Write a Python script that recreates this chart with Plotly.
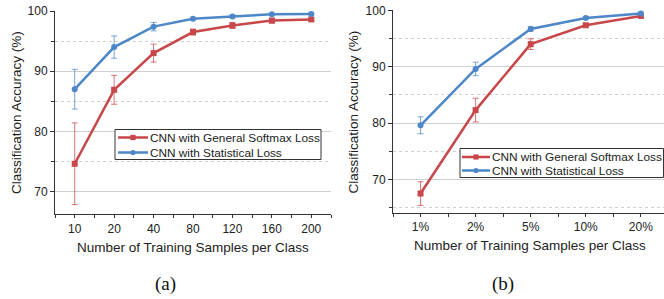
import plotly.graph_objects as go

# ---- data ----
cats_a = ["10", "20", "40", "80", "120", "160", "200"]
softmax_a = [74.6, 86.9, 93.0, 96.5, 97.6, 98.4, 98.6]
softmax_a_err = [6.8, 2.4, 1.5, 0.5, 0.5, 0.4, 0.3]
stat_a = [87.0, 94.0, 97.4, 98.7, 99.1, 99.45, 99.5]
stat_a_err = [3.3, 1.85, 0.7, 0.2, 0.2, 0.15, 0.15]

cats_b = ["1%", "2%", "5%", "10%", "20%"]
softmax_b = [67.5, 82.3, 94.0, 97.35, 99.0]
softmax_b_err = [2.1, 2.1, 0.95, 0.3, 0.25]
stat_b = [79.6, 89.6, 96.7, 98.65, 99.45]
stat_b_err = [1.5, 1.2, 0.4, 0.2, 0.2]

name_soft = "CNN with General Softmax Loss"
name_stat = "CNN with Statistical Loss"
x_title = "Number of Training Samples per Class"
y_title = "Classification Accuracy (%)"

RED = "#C8474A"
BLUE = "#4D87C7"
RED_ERR = "rgba(200,71,74,0.75)"
BLUE_ERR = "rgba(77,135,199,0.75)"

W, H = 664, 299
FONT = "Liberation Sans, Arial, sans-serif"
SERIF = "Liberation Serif, Times New Roman, serif"

fig = go.Figure()

def add_series(xcats, y, err, name, color, ecolor, symbol, xa, ya):
    xs = list(range(len(xcats)))
    fig.add_trace(go.Scatter(
        x=xs, y=y, name=name, mode="lines+markers",
        line=dict(color=color, width=2.5),
        marker=dict(color=color, size=6, symbol=symbol),
        error_y=dict(type="data", array=err, visible=True, color=ecolor,
                     thickness=1, width=3),
        xaxis=xa, yaxis=ya, showlegend=False, cliponaxis=False,
    ))

add_series(cats_a, softmax_a, softmax_a_err, name_soft, RED, RED_ERR, "square", "x", "y")
add_series(cats_a, stat_a, stat_a_err, name_stat, BLUE, BLUE_ERR, "circle", "x", "y")
add_series(cats_b, softmax_b, softmax_b_err, name_soft, RED, RED_ERR, "square", "x2", "y2")
add_series(cats_b, stat_b, stat_b_err, name_stat, BLUE, BLUE_ERR, "circle", "x2", "y2")

def px_x(p):
    return p / W

def px_y(p):
    return 1 - p / H

xcommon = dict(
    automargin=False,
    showline=True, linecolor="#333", linewidth=1, showgrid=False, zeroline=False,
    ticks="outside", ticklen=3, tickcolor="#333",
    tickfont=dict(family=FONT, size=12, color="#222"),
    minor=dict(ticks="outside", ticklen=3, tickcolor="#333", showgrid=False),
)
ycommon = dict(
    automargin=False,
    showline=True, linecolor="#333", linewidth=1, zeroline=False,
    showgrid=True, gridcolor="#CFCFCF", gridwidth=1,
    tickmode="linear", tick0=0, dtick=10,
    ticks="outside", ticklen=4, tickcolor="#333",
    tickfont=dict(family=FONT, size=12, color="#222"),
    minor=dict(dtick=5, tick0=0, ticks="outside", ticklen=3, tickcolor="#333",
               showgrid=True, gridcolor="#D0D0D0", griddash="dot", gridwidth=1),
)

shapes = []
annotations = []

def add_legend(x0, y0, x1, y1, rows, sx0, sx1, tx):
    shapes.append(dict(type="rect", xref="paper", yref="paper",
                       x0=px_x(x0), x1=px_x(x1), y0=px_y(y1), y1=px_y(y0),
                       line=dict(color="#333", width=1), fillcolor="white", layer="above"))
    for (yy, name, color, symbol) in rows:
        shapes.append(dict(type="line", xref="paper", yref="paper",
                           x0=px_x(sx0), x1=px_x(sx1), y0=px_y(yy), y1=px_y(yy),
                           line=dict(color=color, width=2.5), layer="above"))
        cx = (sx0 + sx1) / 2
        r = 2.6
        shapes.append(dict(type="rect" if symbol == "square" else "circle",
                           xref="paper", yref="paper",
                           x0=px_x(cx - r), x1=px_x(cx + r), y0=px_y(yy + r), y1=px_y(yy - r),
                           line=dict(color=color, width=0), fillcolor=color, layer="above"))
        annotations.append(dict(text=name, x=px_x(tx), y=px_y(yy), xref="paper", yref="paper",
                                xanchor="left", yanchor="middle", showarrow=False,
                                font=dict(family=FONT, size=11.8, color="#222")))

add_legend(115, 129.5, 321, 159.5,
           [(137.5, name_soft, RED, "square"), (152.5, name_stat, BLUE, "circle")],
           118, 148, 148)
add_legend(460, 148.5, 663.5, 177.5,
           [(157.0, name_soft, RED, "square"), (170.5, name_stat, BLUE, "circle")],
           462, 490, 490)

def add_text(text, x, y, size, family=FONT, angle=0, color="#222"):
    annotations.append(dict(text=text, x=px_x(x), y=px_y(y), xref="paper", yref="paper",
                            xanchor="center", yanchor="middle", showarrow=False,
                            textangle=angle, font=dict(family=family, size=size, color=color)))

add_text(y_title, 16.5, 112.5, 13.5, angle=-90)
add_text(y_title, 353, 111.5, 13.5, angle=-90)
add_text(x_title, 192.5, 247.3, 13.5)
add_text(x_title, 529.7, 245.7, 13.5)
add_text("(a)", 165, 284, 19, family=SERIF, color="#111")
add_text("(b)", 503, 284, 19, family=SERIF, color="#111")

fig.update_layout(
    width=W, height=H,
    margin=dict(l=0, r=0, t=0, b=0),
    paper_bgcolor="white", plot_bgcolor="white",
    font=dict(family=FONT, size=12, color="#222"),
    xaxis=dict(xcommon, domain=[px_x(55), px_x(331)], range=[-0.5, 6.5],
               tickmode="array", tickvals=list(range(len(cats_a))), ticktext=cats_a,
               minor=dict(xcommon["minor"], tickmode="array",
                          tickvals=[i + 0.5 for i in range(-1, len(cats_a))]),
               anchor="y"),
    yaxis=dict(ycommon, domain=[px_y(214.3), px_y(11)], range=[66.2, 100], anchor="x"),
    xaxis2=dict(xcommon, domain=[px_x(393), 1.0], range=[-0.5, 4.42],
                tickmode="array", tickvals=list(range(len(cats_b))), ticktext=cats_b,
                minor=dict(xcommon["minor"], tickmode="array",
                           tickvals=[i + 0.5 for i in range(-1, len(cats_b))]),
                anchor="y2"),
    yaxis2=dict(ycommon, domain=[px_y(212.7), px_y(10.3)], range=[64.1, 100], anchor="x2"),
    showlegend=False,
    hovermode=False,
    shapes=shapes,
    annotations=annotations,
)

fig.write_html("out.html", config={"displayModeBar": False, "staticPlot": True},
               post_script="document.body.style.margin='0';document.body.style.padding='0';")
